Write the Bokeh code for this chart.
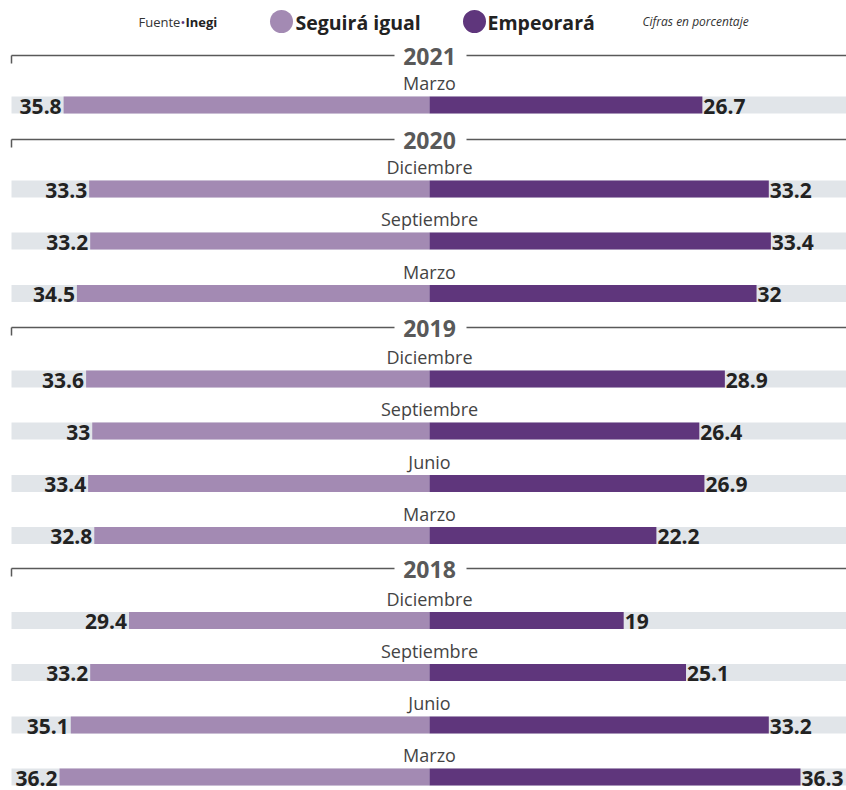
from bokeh.plotting import figure
from bokeh.models import Range1d, ColumnDataSource
from bokeh.core.properties import value
from bokeh.embed import file_html
from bokeh.resources import INLINE

# ---------------- data ----------------
years = ["2021", "2020", "2019", "2018"]
months = [
    ["Marzo"],
    ["Diciembre", "Septiembre", "Marzo"],
    ["Diciembre", "Septiembre", "Junio", "Marzo"],
    ["Diciembre", "Septiembre", "Junio", "Marzo"],
]
seguira = [
    [35.8],
    [33.3, 33.2, 34.5],
    [33.6, 33.0, 33.4, 32.8],
    [29.4, 33.2, 35.1, 36.2],
]
empeorara = [
    [26.7],
    [33.2, 33.4, 32.0],
    [28.9, 26.4, 26.9, 22.2],
    [19.0, 25.1, 33.2, 36.3],
]
legend_labels = ["Seguirá igual", "Empeorará"]
source_label = ["Fuente", "•", "Inegi"]
note_label = "Cifras en porcentaje"

# ---------------- style / layout ----------------
W, H = 846, 790
CX = 429.0          # pixel of zero
PPU = 10.22         # pixels per unit
C_LIGHT = "#A38AB3"
C_DARK = "#5F367C"
C_BG = "#E1E5E9"
C_TXT = "#222222"
C_YEAR = "#595959"

def px(xp):
    return (xp - CX) / PPU

year_line_y = [55, 139, 327, 568]
bar_y = [[104.5], [188.5, 240.5, 293], [378.5, 430.5, 483, 535], [620, 672, 724.5, 776.5]]

def fmt(v):
    s = f"{v:.1f}"
    return s[:-2] if s.endswith(".0") else s

rows = dict(y=[], seg=[], emp=[], seg_lab=[], emp_lab=[], month=[], my=[])
for gi in range(len(years)):
    for mi, m in enumerate(months[gi]):
        y = bar_y[gi][mi]
        s = seguira[gi][mi]
        e = empeorara[gi][mi]
        rows["y"].append(y)
        rows["seg"].append(-s)
        rows["emp"].append(e)
        rows["seg_lab"].append(fmt(s))
        rows["emp_lab"].append(fmt(e))
        rows["month"].append(m)
        rows["my"].append(y - 22)
src = ColumnDataSource(rows)

p = figure(width=W, height=H, output_backend="svg", toolbar_location=None,
           x_range=Range1d(px(0), px(W)), y_range=Range1d(H, 0),
           x_axis_type=None, y_axis_type=None, min_border=0)
p.outline_line_color = None
p.grid.visible = False
p.background_fill_color = "white"
p.border_fill_color = "white"

# background bars
p.hbar(y="y", left=px(11), right=px(W), height=17, fill_color=C_BG, line_color=None, source=src)
# data bars
p.hbar(y="y", left="seg", right=0, height=17, fill_color=C_LIGHT, line_color=None, source=src)
p.hbar(y="y", left=0, right="emp", height=17, fill_color=C_DARK, line_color=None, source=src)

# value labels
vfont = value("Open Sans")
p.text(x="seg", y="y", text="seg_lab", source=src, x_offset=-2, y_offset=1,
       text_align="right", text_baseline="middle", text_font=vfont,
       text_font_style="bold", text_font_size="21px", text_color=C_TXT)
p.text(x="emp", y="y", text="emp_lab", source=src, x_offset=1, y_offset=1,
       text_align="left", text_baseline="middle", text_font=vfont,
       text_font_style="bold", text_font_size="21px", text_color=C_TXT)

# month labels
p.text(x=0, y="my", text="month", source=src, text_align="center",
       text_baseline="middle", text_font=vfont, text_font_size="18px",
       text_color="#444444")

# year separators
for yl, yr in zip(year_line_y, years):
    p.segment(x0=[px(11), px(466)], y0=[yl, yl], x1=[px(394), px(W)], y1=[yl, yl],
              line_color=C_YEAR, line_width=1.5)
    p.segment(x0=[px(11)], y0=[yl], x1=[px(11)], y1=[yl + 8],
              line_color=C_YEAR, line_width=1.5)
    p.text(x=[0], y=[yl + 1], text=[yr], text_align="center", text_baseline="middle",
           text_font=vfont, text_font_style="bold", text_font_size="23px",
           text_color=C_YEAR)

# header
hy = 21
p.text(x=[px(138)], y=[hy], text=[source_label[0]], text_align="left", text_baseline="middle",
       text_font=vfont, text_font_size="13px", text_color="#333333")
p.text(x=[px(180)], y=[hy], text=[source_label[1]], text_align="left", text_baseline="middle",
       text_font=vfont, text_font_size="13px", text_color=C_DARK)
p.text(x=[px(185)], y=[hy], text=[source_label[2]], text_align="left", text_baseline="middle",
       text_font=vfont, text_font_style="bold", text_font_size="13px", text_color="#222222")

p.scatter(x=[px(281), px(474)], y=[hy, hy], size=23, marker="circle",
          fill_color=[C_LIGHT, C_DARK], line_color=None)
p.text(x=[px(295), px(487)], y=[hy + 1, hy + 1], text=legend_labels, text_align="left",
       text_baseline="middle", text_font=vfont, text_font_style="bold",
       text_font_size="19.5px", text_color="#222222")
p.text(x=[px(642)], y=[hy], text=[note_label], text_align="left", text_baseline="middle",
       text_font=vfont, text_font_style="italic", text_font_size="12px", text_color="#333333")

open("out.html", "w").write(file_html(p, INLINE))
